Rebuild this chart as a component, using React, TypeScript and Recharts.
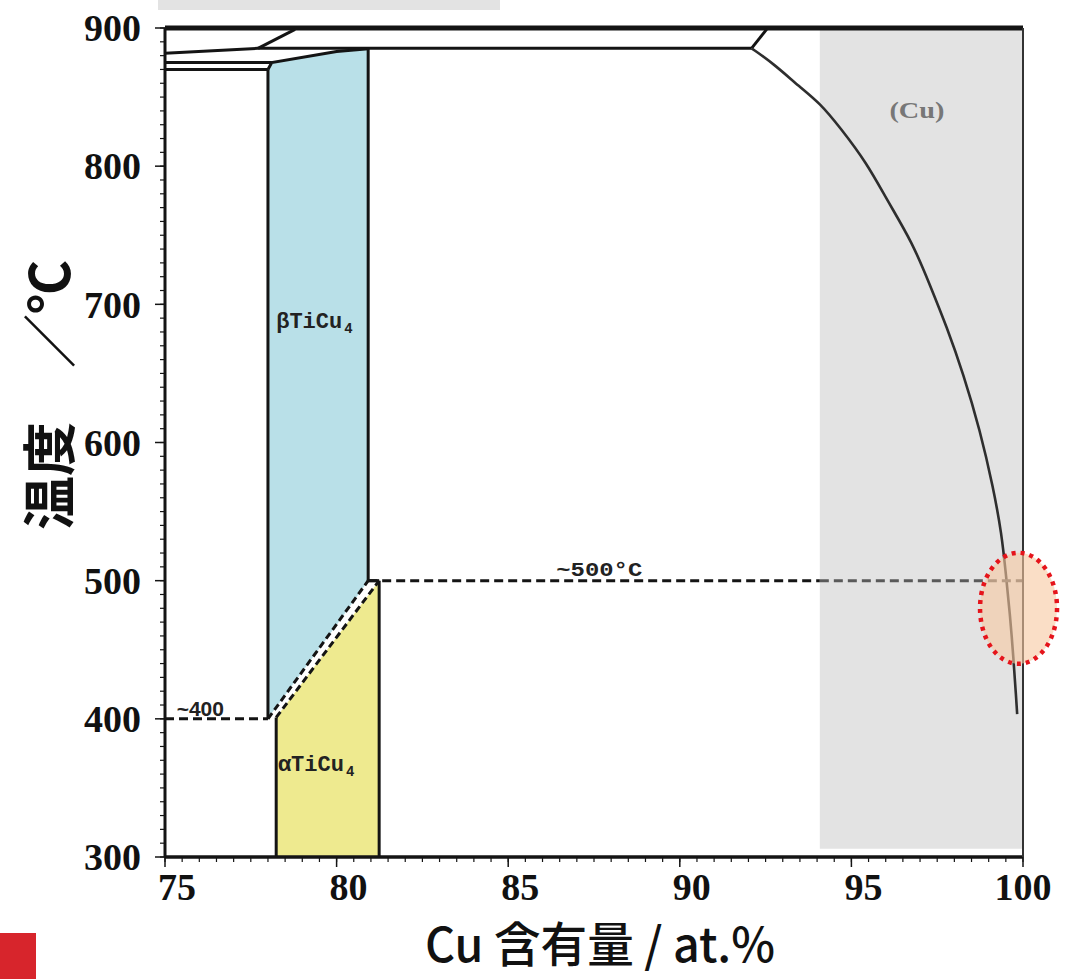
import {
  ComposedChart,
  XAxis,
  YAxis,
  Line,
  Area,
  ReferenceArea,
  ReferenceDot,
  ReferenceLine,
} from 'recharts'

// axis ticks
const xTickLabels = [75, 80, 85, 90, 95, 100]
const yTickLabels = [300, 400, 500, 600, 700, 800, 900]
const xMinorTicks = Array.from({ length: 51 }, (_, i) => 75 + i * 0.5)
const yMinorTicks = Array.from({ length: 61 }, (_, i) => 300 + i * 10)

// βTiCu4 field
const betaX = [78.0, 78.11, 80.0, 80.92]
const betaLow = [400, 404, 468, 500]
const betaHigh = [870, 875, 883, 885]

// αTiCu4 field
const alphaX = [78.24, 81.24]
const alphaLow = [300, 300]
const alphaHigh = [401, 500]

// (Cu) field
const cuX = [94.08, 100]
const cuY = [306, 900]

// (Cu) solvus
const solvusX = [92.09, 92.09, 92.71, 93.5, 94.08, 94.66, 95.45, 96.04, 96.79, 97.29, 97.78, 98.26, 98.75, 99.13, 99.38, 99.5, 99.62, 99.72, 99.8, 99.83]
const solvusY = [885.3, 885.3, 874.6, 857.2, 845.7, 828.3, 802.2, 775.4, 744.2, 713.8, 683.6, 649.8, 608.7, 567.6, 533.8, 504.9, 475.9, 444.4, 415.4, 403.4]

// highlighted spot
const markX = 99.87
const markY = 480

const INK = '#141414'
const GREY_INK = '#5a5a5a'

const toPts = (xs: number[], ys: number[]) => xs.map((x, i) => ({ x, y: ys[i] }))
const toRange = (xs: number[], lo: number[], hi: number[]) =>
  xs.map((x, i) => ({ x, range: [lo[i], hi[i]] }))

function seg(key: string, xs: number[], ys: number[], opts: { stroke?: string; width?: number; dash?: string; curve?: any } = {}) {
  return (
    <Line
      key={key}
      data={toPts(xs, ys)}
      dataKey="y"
      type={opts.curve ?? 'linear'}
      stroke={opts.stroke ?? INK}
      strokeWidth={opts.width ?? 3}
      strokeDasharray={opts.dash}
      dot={false}
      activeDot={false}
      isAnimationActive={false}
    />
  )
}

const DASH = '9 5'

function XTick(props: any) {
  const { x, y, payload } = props
  const v = payload.value
  if (!xTickLabels.includes(v)) return null
  const shift = v === 100 ? 0 : 12
  return (
    <g>
      <line x1={x} y1={y - 7} x2={x} y2={y + 3} stroke={INK} strokeWidth={1.5} />
      <text
        x={x + shift}
        y={y + 36}
        textAnchor="middle"
        fontFamily="'Liberation Serif', serif"
        fontWeight={700}
        fontSize={38}
        fill="#111"
      >
        {v}
      </text>
    </g>
  )
}

function YTick(props: any) {
  const { x, y, payload } = props
  const v = payload.value
  if (!yTickLabels.includes(v)) return null
  return (
    <g>
      <line x1={x - 3} y1={y} x2={x + 7} y2={y} stroke={INK} strokeWidth={1.5} />
      <text
        x={x - 17}
        y={y}
        dy="0.35em"
        textAnchor="end"
        fontFamily="'Liberation Serif', serif"
        fontWeight={700}
        fontSize={38}
        fill="#111"
      >
        {v}
      </text>
    </g>
  )
}

function YTitle() {
  return (
    <text
      x={46}
      y={395}
      transform="rotate(-90 46 395)"
      textAnchor="middle"
      dominantBaseline="central"
      fontFamily="'Noto Sans CJK JP', sans-serif"
      fontWeight={700}
      fontSize={54}
      fill="#111"
    >
      温度　／℃
    </text>
  )
}

function XTitle() {
  return (
    <text
      x={600}
      y={962}
      textAnchor="middle"
      textLength={350}
      lengthAdjust="spacingAndGlyphs"
      fontFamily="'Noto Sans CJK JP', sans-serif"
      fontWeight={500}
      fontSize={48}
      fill="#111"
    >
      Cu 含有量 / at.%
    </text>
  )
}

function phaseLabel(key: string, x: number, y: number, name: string, sub?: string, extra: any = {}) {
  return (
    <ReferenceDot
      key={key}
      x={x}
      y={y}
      r={0}
      ifOverflow="visible"
      shape={(p: any) => (
        <text
          x={p.cx}
          y={p.cy}
          fontFamily="'Liberation Mono', monospace"
          fontWeight={700}
          fontSize={22}
          fill="#222"
          {...extra}
        >
          {name}
          {sub && (
            <tspan fontSize={14} dy={5} dx={2}>
              {sub}
            </tspan>
          )}
        </text>
      )}
    />
  )
}

export default function App() {
  return (
    <div style={{ position: 'fixed', left: 0, top: 0, width: 1082, height: 979, background: '#fff' }}>
      <div style={{ position: 'absolute', left: 158, top: 0, width: 342, height: 10, background: '#e3e3e3' }} />
      <div style={{ position: 'absolute', left: 0, top: 933, width: 36, height: 46, background: '#d7252c' }} />
      <ComposedChart width={1082} height={979} margin={{ top: 28, right: 0, bottom: 0, left: 0 }}>
        <XAxis
          dataKey="x"
          type="number"
          domain={[75, 100]}
          allowDataOverflow
          ticks={xMinorTicks}
          interval={0}
          tickSize={5}
          tick={<XTick />}
          tickLine={{ stroke: INK, strokeWidth: 1.2 }}
          axisLine={{ stroke: INK, strokeWidth: 3.5 }}
          height={122}
          label={<XTitle />}
        />
        <YAxis
          type="number"
          domain={[300, 900]}
          allowDataOverflow
          ticks={yMinorTicks}
          interval={0}
          tickSize={5}
          tick={<YTick />}
          tickLine={{ stroke: INK, strokeWidth: 1.2 }}
          axisLine={{ stroke: INK, strokeWidth: 3 }}
          width={165}
          label={<YTitle />}
        />
        <YAxis
          yAxisId="right"
          orientation="right"
          type="number"
          domain={[300, 900]}
          allowDataOverflow
          ticks={yMinorTicks}
          interval={0}
          tickSize={4}
          tick={false}
          tickLine={{ stroke: '#333', strokeWidth: 1.2 }}
          axisLine={{ stroke: '#333', strokeWidth: 2 }}
          width={59}
        />

        <ReferenceArea x1={cuX[0]} x2={cuX[1]} y1={cuY[0]} y2={cuY[1]} fill="#e3e3e3" fillOpacity={1} stroke="none" />

        <Area
          data={toRange(betaX, betaLow, betaHigh)}
          dataKey="range"
          type="linear"
          stroke="none"
          fill="#b9e0e8"
          fillOpacity={1}
          dot={false}
          activeDot={false}
          isAnimationActive={false}
        />
        <Area
          data={toRange(alphaX, alphaLow, alphaHigh)}
          dataKey="range"
          type="linear"
          stroke="none"
          fill="#eeea8f"
          fillOpacity={1}
          dot={false}
          activeDot={false}
          isAnimationActive={false}
        />

        <ReferenceLine y={900} stroke={INK} strokeWidth={5} />

        {/* solid phase boundaries */}
        {seg('liq', [75, 77.71, 92.09], [881.7, 885.3, 885.3])}
        {seg('liqA', [77.71, 78.79], [885.3, 899])}
        {seg('liqB', [92.09, 92.53], [885.3, 899])}
        {seg('h875', [75, 78.11], [875, 875])}
        {seg('h870', [75, 78.0], [870, 870])}
        {seg('betaTop', betaX, betaHigh)}
        {seg('betaL', [78.0, 78.0], [400, 870])}
        {seg('betaR', [80.92, 80.92], [500, 885])}
        {seg('alphaL', [78.24, 78.24], [300, 401])}
        {seg('alphaR', [81.24, 81.24], [300, 500])}
        {seg('corner', [80.92, 81.24], [500, 500])}
        {seg('solvus', solvusX, solvusY, { curve: 'basis', stroke: '#2e2e2e', width: 2.6 })}

        {/* dashed transitions */}
        {seg('d400', [75, 78.0], [400, 400], { dash: DASH })}
        {seg('d500', [80.92, 94.08], [500, 500], { dash: DASH })}
        {seg('d500Cu', [94.08, 100], [500, 500], { dash: DASH, stroke: GREY_INK })}
        {seg('diagHi', [78.0, 80.92], [400, 500], { dash: '7 4' })}
        {seg('diagLo', [78.24, 81.24], [401, 500], { dash: '7 4' })}

        {phaseLabel('beta', 78.24, 682.6, 'βTiCu', '4')}
        {phaseLabel('alpha', 78.29, 362, 'αTiCu', '4')}
        {phaseLabel('t400', 75.34, 402.2, '~400', undefined, {
          fontFamily: "'Liberation Sans', sans-serif",
          fontSize: 21,
        })}
        {phaseLabel('t500', 86.4, 503.6, '~500°C', undefined, {
          fontSize: 20,
          textLength: 86,
          lengthAdjust: 'spacingAndGlyphs',
        })}
        {phaseLabel('cu', 96.91, 834.8, '(Cu)', undefined, {
          fontFamily: "'Liberation Serif', serif",
          fontSize: 24,
          fill: '#777',
          textAnchor: 'middle',
          textLength: 55,
          lengthAdjust: 'spacingAndGlyphs',
        })}

        <ReferenceDot
          x={markX}
          y={markY}
          r={0}
          ifOverflow="visible"
          shape={(p: any) => (
            <ellipse
              cx={p.cx}
              cy={p.cy}
              rx={38.5}
              ry={55.5}
              fill="rgba(247,200,160,0.6)"
              stroke="#e5141b"
              strokeWidth={4.5}
              strokeDasharray="4 5"
            />
          )}
        />
      </ComposedChart>
    </div>
  )
}
